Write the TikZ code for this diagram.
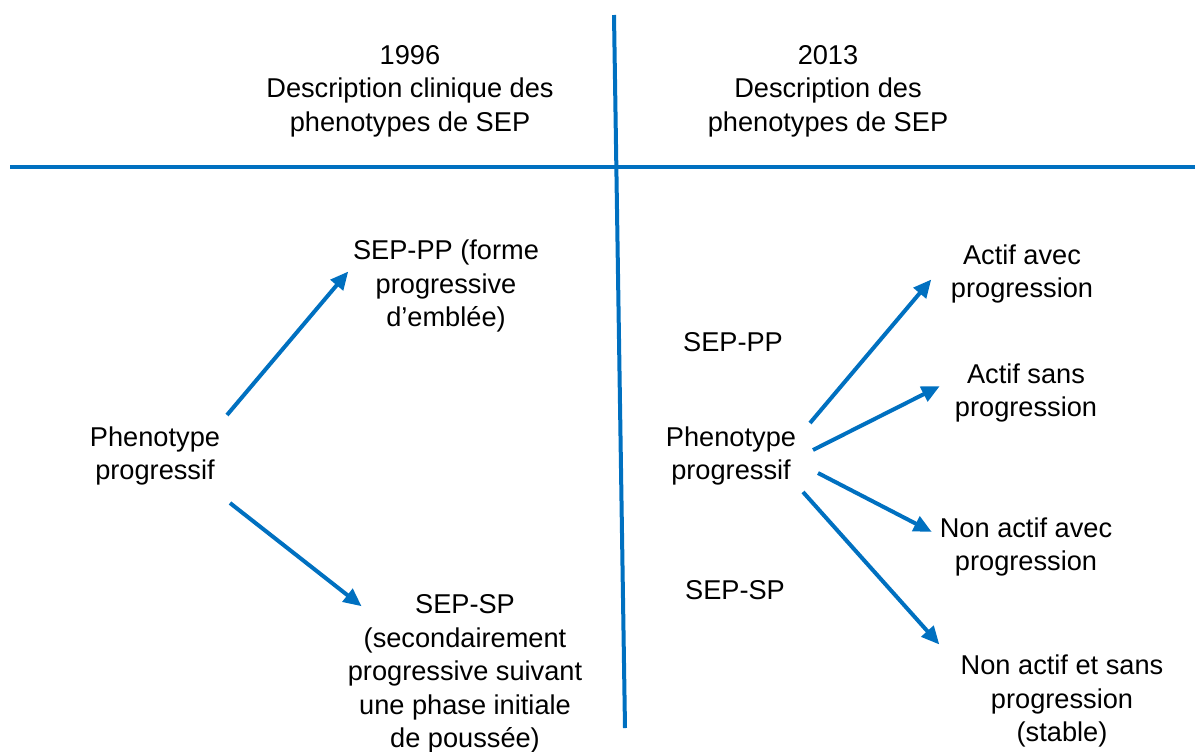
\documentclass[tikz,border=0pt]{standalone}
\usepackage{fontspec}
\setmainfont{Liberation Sans}
\usetikzlibrary{arrows.meta}
\definecolor{lineblue}{HTML}{0070C0}
\tikzset{
  txt/.style={align=center, inner sep=0pt, font=\fontsize{13.6}{16.8}\selectfont, text=black},
  rule/.style={draw=lineblue, line width=2pt},
  arr/.style={draw=lineblue, line width=2pt, -{Triangle[length=9pt,width=8pt]}, shorten >=-1pt}
}
\begin{document}
\begin{tikzpicture}[x=0.5pt,y=-0.5pt]
\useasboundingbox (0,0) rectangle (1195,751);
% frame lines
\coordinate (vt) at (614,15);
\coordinate (vb) at (625,728);
\coordinate (hl) at (10,167);
\coordinate (hr) at (1195,167);
\draw[rule] (vt) -- (vb);
\draw[rule] (hl) -- (hr);
% headers
\node[txt] (h1) at (410,91) {1996\\Description clinique des\\phenotypes de SEP};
\node[txt] (h2) at (828,91) {2013\\Description des\\phenotypes de SEP};
% left side
\node[txt] (lp) at (155,456) {Phenotype\\progressif};
\node[txt] (lpp) at (446,286) {SEP-PP (forme\\progressive\\d’emblée)};
\node[txt] (lsp) at (465,674) {SEP-SP\\(secondairement\\progressive suivant\\une phase initiale\\de poussée)};
% right side
\node[txt] (rpp) at (733,342) {SEP-PP};
\node[txt] (rsp) at (735,590) {SEP-SP};
\node[txt] (rp) at (731,456) {Phenotype\\progressif};
\node[txt] (r1) at (1022,274) {Actif avec\\progression};
\node[txt] (r2) at (1026,393) {Actif sans\\progression};
\node[txt] (r3) at (1026,547) {Non actif avec\\progression};
\node[txt] (r4) at (1062,701) {Non actif et sans\\progression\\(stable)};
% arrow end points
\coordinate (la1) at (227,415);
\coordinate (lb1) at (347,273);
\coordinate (la2) at (230,503);
\coordinate (lb2) at (360,605);
\coordinate (ra1) at (810,423);
\coordinate (rb1) at (930,281);
\coordinate (ra2) at (813,450);
\coordinate (rb2) at (938,387);
\coordinate (ra3) at (818,473);
\coordinate (rb3) at (930,531);
\coordinate (ra4) at (803,492);
\coordinate (rb4) at (938,643);
\draw[arr] (la1) -- (lb1);
\draw[arr] (la2) -- (lb2);
\draw[arr] (ra1) -- (rb1);
\draw[arr] (ra2) -- (rb2);
\draw[arr] (ra3) -- (rb3);
\draw[arr] (ra4) -- (rb4);
\end{tikzpicture}
\end{document}
